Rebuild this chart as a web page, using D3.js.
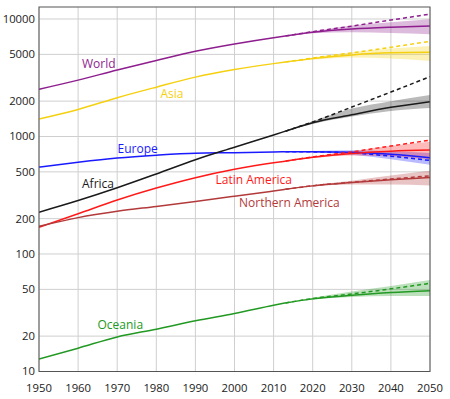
<!DOCTYPE html>
<html>
<head>
<meta charset="utf-8">
<script src="https://cdn.jsdelivr.net/npm/d3@7"></script>
<style>
  body { margin: 0; background: #fff; }
  text { font-family: "Open Sans", sans-serif; }
</style>
</head>
<body>
<script>
// population in millions, UN estimates and projections
const regions = ["World", "Asia", "Europe", "Africa", "Latin America", "Northern America", "Oceania"];
const colors = ["#8e1e8e", "#f5d010", "#1a1aff", "#1a1a1a", "#ff1a1a", "#b33a3a", "#229922"];

const estYears = [1950, 1960, 1970, 1980, 1990, 2000, 2010, 2013];
const estimates = [
  [2525, 3018, 3682, 4440, 5310, 6127, 6930, 7160],
  [1410, 1700, 2140, 2630, 3200, 3710, 4170, 4300],
  [549, 605, 657, 694, 721, 728, 738, 742],
  [227, 285, 366, 480, 635, 810, 1031, 1110],
  [169, 220, 288, 364, 446, 526, 599, 617],
  [172, 204, 231, 254, 280, 310, 344, 355],
  [12.8, 15.8, 19.7, 22.9, 27.0, 31.2, 36.6, 38.3]
];

const projYears = [2013, 2020, 2030, 2040, 2050];
const median = [
  [7160, 7700, 8200, 8500, 8700],
  [4300, 4600, 4950, 5150, 5200],
  [742, 743, 735, 705, 660],
  [1110, 1310, 1530, 1770, 1980],
  [617, 665, 718, 750, 767],
  [355, 380, 405, 428, 448],
  [38.3, 41.5, 44.5, 47, 48.7]
];
const constFert = [
  [7160, 7800, 8700, 9800, 11000],
  [4300, 4650, 5150, 5750, 6450],
  [742, 740, 725, 680, 625],
  [1110, 1330, 1780, 2390, 3230],
  [617, 670, 740, 830, 930],
  [355, 381, 408, 435, 462],
  [38.3, 41.8, 45.7, 50.5, 56.3]
];
const lower = [
  [7160, 7550, 7700, 7600, 7400],
  [4300, 4500, 4700, 4600, 4400],
  [742, 730, 700, 640, 575],
  [1110, 1280, 1480, 1650, 1750],
  [617, 655, 690, 680, 640],
  [355, 375, 390, 390, 382],
  [38.3, 41, 43, 44, 44]
];
const upper = [
  [7160, 7850, 8800, 9400, 9950],
  [4300, 4700, 5200, 5600, 5900],
  [742, 752, 765, 750, 725],
  [1110, 1350, 1730, 2000, 2260],
  [617, 675, 750, 830, 900],
  [355, 385, 420, 465, 510],
  [38.3, 42.5, 48, 53.5, 60]
];

const xTicks = [1950, 1960, 1970, 1980, 1990, 2000, 2010, 2020, 2030, 2040, 2050];
const yTicks = [10, 20, 50, 100, 200, 500, 1000, 2000, 5000, 10000];

// label placement (pixel anchors, start aligned, baseline)
const labelPos = [[82, 68], [160.5, 97.5], [117.5, 152.5], [82, 188], [215.5, 183.5], [239, 207], [97.5, 328.5]];

const width = 450, height = 399;
const mLeft = 39, mRight = 430, mTop = 7, mBottom = 371.5;

const x = d3.scaleLinear().domain([1950, 2050]).range([mLeft, mRight]);
const y = d3.scaleLog().domain([10, 12650]).range([mBottom, mTop]);

const svg = d3.select("body").append("svg")
  .attr("width", width)
  .attr("height", height);

svg.append("defs").append("clipPath").attr("id", "plot")
  .append("rect")
  .attr("x", mLeft).attr("y", mTop)
  .attr("width", mRight - mLeft).attr("height", mBottom - mTop);

// grid
const grid = svg.append("g").attr("stroke", "#cfcfcf").attr("stroke-width", 1);
grid.selectAll(".gx").data(xTicks).enter().append("line")
  .attr("x1", d => x(d)).attr("x2", d => x(d))
  .attr("y1", mTop).attr("y2", mBottom);
grid.selectAll(".gy").data(yTicks).enter().append("line")
  .attr("x1", mLeft).attr("x2", mRight)
  .attr("y1", d => y(d)).attr("y2", d => y(d));

const plot = svg.append("g").attr("clip-path", "url(#plot)");

const line = d3.line()
  .x(d => x(d[0]))
  .y(d => y(d[1]))
  .curve(d3.curveMonotoneX);

const area = d3.area()
  .x(d => x(d[0]))
  .y0(d => y(d[1]))
  .y1(d => y(d[2]))
  .curve(d3.curveMonotoneX);

// uncertainty bands
regions.forEach((r, i) => {
  plot.append("path")
    .datum(projYears.map((yr, j) => [yr, lower[i][j], upper[i][j]]))
    .attr("d", area)
    .attr("fill", colors[i])
    .attr("fill-opacity", 0.3);
});

regions.forEach((r, i) => {
  plot.append("path")
    .datum(estYears.map((yr, j) => [yr, estimates[i][j]]))
    .attr("d", line)
    .attr("fill", "none")
    .attr("stroke", colors[i])
    .attr("stroke-width", 1.5);

  plot.append("path")
    .datum(projYears.map((yr, j) => [yr, median[i][j]]))
    .attr("d", line)
    .attr("fill", "none")
    .attr("stroke", colors[i])
    .attr("stroke-width", 1.5);

  plot.append("path")
    .datum(projYears.map((yr, j) => [yr, constFert[i][j]]))
    .attr("d", line)
    .attr("fill", "none")
    .attr("stroke", colors[i])
    .attr("stroke-width", 1.5)
    .attr("stroke-dasharray", "4,3");
});

// frame
svg.append("rect")
  .attr("x", mLeft).attr("y", mTop)
  .attr("width", mRight - mLeft).attr("height", mBottom - mTop)
  .attr("fill", "none")
  .attr("stroke", "#555")
  .attr("stroke-width", 1);

// tick labels
svg.append("g").selectAll("text").data(yTicks).enter().append("text")
  .attr("x", mLeft - 4)
  .attr("y", d => y(d))
  .attr("dy", "0.35em")
  .attr("text-anchor", "end")
  .attr("font-size", "11.3px")
  .attr("fill", "#222")
  .text(d => d);

svg.append("g").selectAll("text").data(xTicks).enter().append("text")
  .attr("x", d => x(d))
  .attr("y", 392)
  .attr("text-anchor", "middle")
  .attr("font-size", "11.3px")
  .attr("fill", "#222")
  .text(d => d);

// region labels
svg.append("g").selectAll("text").data(regions).enter().append("text")
  .attr("x", (d, i) => labelPos[i][0])
  .attr("y", (d, i) => labelPos[i][1])
  .attr("font-size", "12px")
  .attr("fill", (d, i) => colors[i])
  .text(d => d);
</script>
</body>
</html>
